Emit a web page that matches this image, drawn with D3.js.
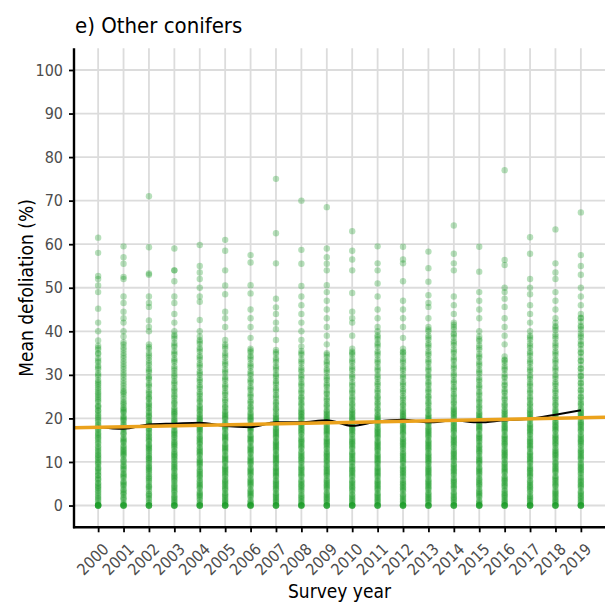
<!DOCTYPE html>
<html>
<head>
<meta charset="utf-8">
<script src="https://cdn.jsdelivr.net/npm/d3@7"></script>
<style>
  html, body { margin: 0; padding: 0; background: #ffffff; }
  svg { display: block; }
  text { font-family: "DejaVu Sans Condensed", "DejaVu Sans", sans-serif; }
</style>
</head>
<body>
<svg id="chart" width="605" height="605"></svg>
<script>
// ---------------- data ----------------
const titleText = "e) Other conifers";
const xTitle = "Survey year";
const yTitle = "Mean defoliation (%)";

const years = [2000,2001,2002,2003,2004,2005,2006,2007,2008,2009,2010,2011,2012,2013,2014,2015,2016,2017,2018,2019];
const yTicks = [0,10,20,30,40,50,60,70,80,90,100];

// yearly mean defoliation (black line)
const meanDefoliation = [18.1,17.6,18.6,18.8,19.0,18.25,18.0,19.1,19.1,19.6,18.3,19.3,19.7,19.1,19.5,19.1,19.6,19.9,20.85,21.85];

// linear trend (orange line): fitted values at first and last survey year
const trendYears = [2000, 2019];
const trendValues = [17.96, 20.14];

// plot-level mean defoliation, one array per survey year (first batch)
const d2000 = [0,0,0,0,0.4,1,1.7,2.1,2.9,3.3,4,4.6,5,5.8,6.3,7,7.5,8.3,8.8,9.4,10,10.4,11.1,11.7,12.5,12.9,13.6,14.2,15,15.4,16.1,16.7,17.5,17.9,18.6,19.2,20,20.4,21.2,21.7,22.5,23,23.8,24.5,25,25.8,26.7,27.1,28,28.8,29.6,30.4,31.3,32.1,32.9,33.8,35,35.8,36.7,37.9,40,42,45.2,49,50.5,52,52.7,58,61.5];
const d2001 = [0,0,0,0.6,1.3,1.9,2.5,3.1,3.8,4.4,5,5.6,6.3,6.9,7.5,8.1,8.8,9.4,10,10.6,11.3,11.9,12.5,13.1,13.8,14.4,15,15.6,16.3,16.9,17.5,18.1,18.8,19.4,20,20.6,21.3,21.9,22.5,23.1,23.8,25,25.6,26.3,27.5,28.1,29.4,30,31.3,31.9,33.1,34.4,35,36.3,37.5,38.8,40,42,43,44.5,46.5,48,52,52.5,55.5,57,59.5];
const d2002 = [0,0,0,0.8,1.4,2.2,2.7,3.3,4.2,4.7,5.3,6.1,6.7,7.2,8,8.6,9.2,9.7,10.5,11,11.7,12.2,12.9,13.5,14,14.7,15.3,16,16.4,17.2,17.8,18.3,19,19.6,20.3,20.8,21.6,22.2,22.9,23.6,24.4,25,25.6,26.4,27.3,28,29,29.7,30.6,31.4,32.2,33.3,34,35,36,37,40,41,42.5,45.6,46.5,48,53,53.3,59.3,71];
const d2003 = [0,0,0,0.5,1.1,1.8,2.4,3,3.6,4.3,5,5.5,6.2,6.8,7.4,8,8.6,9.3,10,10.5,11.2,11.8,12.4,13,13.7,14.3,15,15.5,16.2,16.8,17.4,18,18.7,19.3,20,20.5,21.2,21.8,22.6,23.3,24,24.7,25.5,26.2,27,27.8,28.6,29.4,30.3,31,32,32.9,33.7,34.6,35.5,36.4,37.3,38.3,39.2,40,42,44,46.5,48,51.5,54,54,59];
const d2004 = [0,0,0,0.7,1.3,2,2.6,3.2,3.9,4.5,5.1,5.8,6.4,7,7.7,8.3,8.9,9.6,10.2,10.8,11.5,12.1,12.7,13.4,14,14.6,15.3,15.9,16.5,17.2,17.8,18.4,19.1,19.7,20.3,21,21.6,22.3,23,23.8,24.5,25.2,26,26.8,27.6,28.4,29.2,30,30.8,31.7,32.6,33.5,34.4,35.3,36.2,37.1,38,38.8,40,42.6,46.8,48,50,52,53.5,55,59.8];
const d2005 = [0,0,0,0.4,1,1.6,2.3,2.9,3.5,4.1,4.8,5.4,6,6.6,7.3,7.9,8.5,9.1,9.8,10.4,11,11.6,12.3,12.9,13.5,14.1,14.8,15.4,16,16.6,17.3,17.9,18.5,19.1,19.8,20.4,21,21.7,22.4,23.1,23.8,24.6,25.4,26.2,27,27.8,28.7,29.5,30.4,31.3,32.2,33.1,34,35,36,37,38,41,43,44.5,48.5,50.5,54,58.5,61];
const d2006 = [0,0,0,0.6,1.2,1.9,2.5,3.1,3.7,4.4,5,5.6,6.2,6.9,7.5,8.1,8.7,9.4,10,10.6,11.2,11.9,12.5,13.1,13.7,14.4,15,15.6,16.2,16.9,17.5,18.1,18.7,19.4,20,20.6,21.3,22,22.7,23.4,24.1,24.9,25.7,26.5,27.3,28.2,29,29.9,30.8,31.7,32.6,33.5,34.4,35.2,36,38.5,41,43,45,48.7,50.6,55.8,57.5];
const d2007 = [0,0,0,0.5,1.1,1.7,2.3,2.9,3.5,4.1,4.7,5.3,5.9,6.5,7.1,7.7,8.3,8.9,9.5,10.1,10.7,11.3,11.9,12.5,13.1,13.7,14.3,14.9,15.5,16.1,16.7,17.3,17.9,18.5,19.1,19.7,20.3,21,21.7,22.4,23.1,23.8,24.6,25.4,26.2,27,27.8,28.6,29.4,30.2,31.1,32,32.9,33.8,34.8,35.7,38,40.5,42,44,45.5,47.5,55.6,62.5,75];
const d2008 = [0,0,0,0.7,1.4,2,2.7,3.3,4,4.6,5.3,5.9,6.6,7.2,7.9,8.5,9.2,9.8,10.5,11.1,11.8,12.4,13.1,13.7,14.4,15,15.7,16.3,17,17.6,18.3,18.9,19.6,20.2,20.9,21.5,22.2,22.9,23.6,24.3,25,25.8,26.6,27.4,28.2,29,29.9,30.8,31.7,32.6,33.6,34.6,35.5,36.5,38,40,42,44,46,48,50.4,55.5,58.7,70];
const d2009 = [0,0,0,0.5,1.2,1.8,2.4,3,3.7,4.3,4.9,5.5,6.2,6.8,7.4,8,8.7,9.3,9.9,10.5,11.2,11.8,12.4,13,13.7,14.3,14.9,15.5,16.2,16.8,17.4,18,18.7,19.3,19.9,20.5,21.2,21.9,22.6,23.3,24,24.8,25.6,26.4,27.2,28,28.8,29.6,30.5,31.4,32.3,33.2,34.1,35,37,39,41,43,45,47,49,50.6,54,55.5,57,59,68.5];
const d2010 = [0,0,0,0.6,1.3,1.9,2.6,3.2,3.9,4.5,5.2,5.8,6.5,7.1,7.8,8.4,9.1,9.7,10.4,11,11.7,12.3,13,13.6,14.3,14.9,15.6,16.2,16.9,17.5,18.2,18.8,19.5,20.1,20.8,21.4,22.1,22.8,23.5,24.2,25,25.8,26.6,27.4,28.3,29.2,30.1,31,31.9,32.8,33.7,34.6,35.3,36,39,42,43,44.5,48.8,54,56.5,58.5,63];
const d2011 = [0,0,0,0.5,1.1,1.7,2.3,2.9,3.5,4.1,4.7,5.3,5.9,6.5,7.1,7.7,8.3,8.9,9.5,10.1,10.7,11.3,11.9,12.5,13.1,13.7,14.3,14.9,15.5,16.1,16.7,17.3,17.9,18.5,19.1,19.7,20.3,20.9,21.6,22.3,23,23.7,24.4,25.1,25.9,26.7,27.5,28.3,29.1,30,30.9,31.8,32.7,33.6,34.5,35.4,36.4,37.3,38.2,39.1,40,41,43,45,48,51,54,55.6,59.5];
const d2012 = [0,0,0,0.7,1.3,2,2.6,3.3,3.9,4.6,5.2,5.9,6.5,7.2,7.8,8.5,9.1,9.8,10.4,11.1,11.7,12.4,13,13.7,14.3,15,15.6,16.3,16.9,17.6,18.2,18.9,19.5,20.2,20.8,21.5,22.2,22.9,23.6,24.3,25.1,25.9,26.7,27.5,28.3,29.2,30.1,31,31.9,32.8,33.7,34.6,35.3,36,38.5,41,43,45,47,51.5,55.6,56.5,59.4];
const d2013 = [0,0,0,0.6,1.2,1.8,2.4,3,3.6,4.2,4.8,5.4,6,6.6,7.2,7.8,8.4,9,9.6,10.2,10.8,11.4,12,12.6,13.2,13.8,14.4,15,15.6,16.2,16.8,17.4,18,18.6,19.2,19.8,20.4,21,21.7,22.4,23.1,23.8,24.5,25.2,26,26.8,27.6,28.4,29.2,30,30.9,31.8,32.7,33.6,34.5,35.4,36.3,37.2,38.1,39,40,41,43,45.6,46.5,48.3,51.4,54.5,58.3];
const d2014 = [0,0,0,0.5,1.2,1.8,2.5,3.1,3.8,4.4,5.1,5.7,6.4,7,7.7,8.3,9,9.6,10.3,10.9,11.6,12.2,12.9,13.5,14.2,14.8,15.5,16.1,16.8,17.4,18.1,18.7,19.4,20,20.7,21.3,22,22.7,23.4,24.1,24.8,25.6,26.4,27.2,28,28.8,29.6,30.5,31.4,32.3,33.2,34.1,35,35.9,36.8,37.7,38.6,39.5,40.5,41.5,42,44,46,48,54,55.6,57.8,64.3];
const d2015 = [0,0,0,0.6,1.2,1.9,2.5,3.1,3.8,4.4,5,5.7,6.3,6.9,7.6,8.2,8.8,9.5,10.1,10.7,11.4,12,12.6,13.3,13.9,14.5,15.2,15.8,16.4,17.1,17.7,18.3,19,19.6,20.2,20.9,21.6,22.3,23,23.7,24.5,25.3,26.1,26.9,27.7,28.5,29.4,30.3,31.2,32.1,33,33.9,34.8,35.8,36.8,37.8,38.8,40,43,45,47,49,53.7,59.4];
const d2016 = [0,0,0,0.4,1,1.7,2.3,2.9,3.6,4.2,4.8,5.5,6.1,6.7,7.4,8,8.6,9.3,9.9,10.5,11.2,11.8,12.4,13.1,13.7,14.3,15,15.6,16.2,16.9,17.5,18.1,18.8,19.4,20,20.7,21.4,22.1,22.8,23.5,24.3,25.1,25.9,26.7,27.5,28.4,29.3,30.2,31.1,32,32.8,33.5,34.2,37,39,41,43,45.6,47.5,49,50,55.2,56.4,77];
const d2017 = [0,0,0,0.6,1.3,1.9,2.6,3.2,3.9,4.5,5.2,5.8,6.5,7.1,7.8,8.4,9.1,9.7,10.4,11,11.7,12.3,13,13.6,14.3,14.9,15.6,16.2,16.9,17.5,18.2,18.8,19.5,20.1,20.8,21.4,22.1,22.8,23.5,24.2,25,25.8,26.6,27.4,28.2,29,29.9,30.8,31.7,32.6,33.5,34.4,35.3,36.2,37.2,38.1,39,40,42,44,46,48.5,50,52,57.8,61.6];
const d2018 = [0,0,0,0.5,1.1,1.8,2.4,3,3.7,4.3,4.9,5.6,6.2,6.8,7.5,8.1,8.7,9.4,10,10.6,11.3,11.9,12.5,13.2,13.8,14.4,15.1,15.7,16.3,17,17.6,18.2,18.9,19.5,20.1,20.8,21.5,22.2,22.9,23.6,24.3,25.1,25.9,26.7,27.5,28.3,29.1,30,30.9,31.8,32.7,33.6,34.5,35.4,36.3,37.3,38.3,39.3,40.3,41.2,42,43,45,47,49,52,53.5,55.6,63.4];
const d2019 = [0,0,0,0.7,1.4,2,2.7,3.3,4,4.6,5.3,5.9,6.6,7.2,7.9,8.5,9.2,9.8,10.5,11.1,11.8,12.4,13.1,13.7,14.4,15,15.7,16.3,17,17.6,18.3,18.9,19.6,20.2,20.9,21.5,22.2,22.9,23.6,24.3,25,25.8,26.6,27.4,28.2,29,29.8,30.6,31.4,32.3,33.2,34.1,35,35.9,36.8,37.7,38.6,39.5,40.4,41.3,42.2,43.1,44,46,48,50,53,55,57.5,67.3];

// second batch of plot values per survey year (dense core of each column)
const c2000 = [0,0,0.2,1.4,2.5,3.7,4.3,5.2,6.1,6.9,7.8,8.5,9.7,10.8,11.5,12.2,13.3,14.5,15.7,16.4,17.2,18.3,19.6,20.7,21.9,22.8,24.1,25.4,26.2,27.6,28.4,30,31.7,33.3,34.8,36.2];
const c2001 = [0,0,0.3,1.6,2.8,3.5,4.7,5.3,6.6,7.2,8.4,9.1,10.3,11.6,12.2,12.8,13.5,14.7,15.3,16.6,17.8,18.5,19.7,20.3,21.6,22.2,23.5,24.4,26,26.9,28.7,30.6,32.5,33.8,35.7,37];
const c2002 = [0,0,0.5,1.7,2.5,3.8,4.4,5.7,6.4,7.6,8.3,8.9,10.1,10.8,11.4,12.6,13.2,13.8,15,15.7,16.7,17.5,18.6,19.3,20.5,21.3,22.5,23.3,24.7,26,27.7,29.3,31,32.7,34.5,36.4];
const c2003 = [0,0,0.8,1.5,2.1,3.3,4,4.6,5.8,6.5,7.1,8.3,8.9,9.6,10.8,11.5,12.1,13.4,14,14.6,15.8,16.5,17.1,18.4,19,19.6,20.9,21.5,22.2,23.6,25.1,26.6,28.2,29.8,31.5,33.3,35,36.8,38.8];
const c2004 = [0,0,0.4,1.6,2.3,2.9,4.2,4.8,5.5,6.7,7.3,8,9.3,9.9,10.5,11.8,12.4,13.1,14.3,15,15.6,16.9,17.5,18.1,19.4,20,20.7,21.9,22.7,24.1,25.6,27.2,28.8,30.4,32.2,34,35.8,37.6];
const c2005 = [0,0,0.7,1.3,2,2.6,3.8,4.4,5.1,5.7,6.9,7.6,8.2,8.8,10.1,10.7,11.3,12.6,13.2,13.8,15.1,15.7,16.3,17.6,18.2,18.8,20.1,20.7,21.4,22.7,24.2,25.8,27.4,29.1,30.8,32.6,34.5,36.5];
const c2006 = [0,0,0.3,0.9,2.2,2.8,3.4,4.7,5.3,5.9,7.2,7.8,8.4,9.7,10.3,10.9,12.2,12.8,13.4,14.7,15.3,15.9,17.2,17.8,18.4,19.7,20.3,21,22.4,23.8,25.3,26.9,28.6,30.3,32.1,34,35.6];
const c2007 = [0,0,0.8,1.4,2,2.6,3.8,4.4,5,5.6,6.8,7.4,8,8.6,9.8,10.4,11,11.6,12.8,13.4,14,14.6,15.8,16.4,17,17.6,18.8,19.4,20,20.7,22.1,23.5,25,26.6,28.2,29.8,31.6,33.4,35.2];
const c2008 = [0,0,0.3,1,1.7,2.3,3.6,4.3,4.9,5.6,6.9,7.5,8.2,8.8,10.1,10.8,11.4,12.1,13.4,14,14.7,15.3,16.6,17.3,17.9,18.6,19.9,20.5,21.2,21.9,23.3,24.7,26.2,27.8,29.5,31.2,33.1,35];
const c2009 = [0,0,0.9,1.5,2.1,2.7,4,4.6,5.2,5.8,7.1,7.7,8.3,9,10.2,10.8,11.5,12.1,13.3,14,14.6,15.2,16.5,17.1,17.7,18.4,19.6,20.2,20.9,21.6,23,24.4,25.9,27.6,29.2,31,32.8,34.6];
const c2010 = [0,0,0.3,1,1.6,2.3,3.5,4.2,4.9,5.5,6.8,7.5,8.1,8.8,10,10.7,11.4,12,13.3,14,14.6,15.2,16.5,17.2,17.8,18.5,19.8,20.4,21.1,21.8,23.2,24.6,26.2,27.8,29.6,31.4,33.2,35];
const c2011 = [0,0,0.8,1.4,2,2.6,3.8,4.4,5,5.6,6.8,7.4,8,8.6,9.8,10.4,11,11.6,12.8,13.4,14,14.6,15.8,16.4,17,17.6,18.8,19.4,20,20.6,22,23.4,24.8,26.3,27.9,29.5,31.3,33.1,35,36.9,38.7];
const c2012 = [0,0,0.3,1,1.6,2.3,3.6,4.2,4.9,5.5,6.8,7.5,8.1,8.8,10.1,10.7,11.4,12,13.3,14,14.6,15.3,16.6,17.2,17.9,18.5,19.8,20.5,21.1,21.8,23.2,24.7,26.3,27.9,29.6,31.4,33.2,35.1];
const c2013 = [0,0,0.9,1.5,2.1,2.7,3.9,4.5,5.1,5.7,6.9,7.5,8.1,8.7,9.9,10.5,11.1,11.7,12.9,13.5,14.1,14.7,15.9,16.5,17.1,17.7,18.9,19.5,20.1,20.7,22,23.5,24.9,26.4,28,29.6,31.3,33.1,34.9,36.8,38.6,40.4];
const c2014 = [0,0,0.8,1.5,2.1,2.8,4.1,4.7,5.4,6,7.3,8,8.6,9.3,10.6,11.2,11.9,12.5,13.8,14.5,15.1,15.8,17.1,17.7,18.4,19,20.3,21,21.6,22.3,23.7,25.2,26.8,28.4,30,31.8,33.6,35.4,37.3,39.2,41];
const c2015 = [0,0,0.3,0.9,2.2,2.8,3.4,4.7,5.3,6,7.3,7.9,8.5,9.8,10.4,11,12.3,12.9,13.6,14.8,15.5,16.1,17.4,18,18.6,19.9,20.5,21.2,22.6,24.1,25.7,27.3,28.9,30.7,32.5,34.3,36.3,38.2];
const c2016 = [0,0,0.7,1.3,2,2.6,3.3,4.5,5.1,5.8,6.4,7.7,8.3,8.9,9.6,10.8,11.5,12.1,12.7,14,14.6,15.3,15.9,17.2,17.8,18.4,19.1,20.3,21,21.7,23.1,24.6,26.2,27.8,29.6,31.5,33.3];
const c2017 = [0,0,0.3,1,1.6,2.2,3.5,4.2,4.8,5.5,6.8,7.4,8.1,8.7,10,10.7,11.3,12,13.3,13.9,14.6,15.2,16.5,17.2,17.8,18.5,19.8,20.4,21.1,21.8,23.2,24.6,26.2,27.8,29.5,31.2,33,34.9,36.7,38.6];
const c2018 = [0,0,0.8,1.4,2.1,2.7,3.3,4.6,5.2,5.9,6.5,7.8,8.4,9,9.7,10.9,11.6,12.2,12.8,14.1,14.7,15.4,16,17.3,17.9,18.5,19.2,20.4,21.1,21.8,23.2,24.7,26.3,27.9,29.6,31.4,33.2,35,36.8,38.8,40.8];
const c2019 = [0,0,0.3,1,1.7,2.3,3,4.3,4.9,5.6,6.3,7.5,8.2,8.8,9.5,10.8,11.4,12.1,12.7,14,14.7,15.3,16,17.3,17.9,18.6,19.2,20.5,21.2,21.9,23.3,24.8,26.4,28,29.7,31.5,33.3,35.2,37.1,39,41,43];

const batchA = [d2000,d2001,d2002,d2003,d2004,d2005,d2006,d2007,d2008,d2009,d2010,d2011,d2012,d2013,d2014,d2015,d2016,d2017,d2018,d2019];
const batchB = [c2000,c2001,c2002,c2003,c2004,c2005,c2006,c2007,c2008,c2009,c2010,c2011,c2012,c2013,c2014,c2015,c2016,c2017,c2018,c2019];

// ---------------- chart ----------------
(function () {
const svg = d3.select("#chart");
const pLeft = 74, pRight = 605, pTop = 48.2, pBottom = 527.3;

const x = d3.scaleLinear().domain([1999.05, 2019.95]).range([pLeft, pRight]);
const y = d3.scaleLinear().domain([-5, 105]).range([pBottom, pTop]);

// title
svg.append("text")
  .attr("x", 75).attr("y", 33)
  .attr("font-size", 22).attr("fill", "#000")
  .text(titleText);

// grid
const grid = svg.append("g");
grid.selectAll("line.h").data(yTicks).join("line").attr("class", "h")
  .attr("x1", pLeft).attr("x2", pRight)
  .attr("y1", d => y(d)).attr("y2", d => y(d))
  .attr("stroke", "#dcdcdc").attr("stroke-width", 1.8);
grid.selectAll("line.v").data(years).join("line").attr("class", "v")
  .attr("x1", d => x(d)).attr("x2", d => x(d))
  .attr("y1", pTop).attr("y2", pBottom)
  .attr("stroke", "#dcdcdc").attr("stroke-width", 1.8);

// points
const pts = [];
years.forEach((yr, i) => {
  batchA[i].forEach(v => pts.push({yr, v}));
  batchB[i].forEach(v => pts.push({yr, v}));
});
svg.append("g").selectAll("circle").data(pts).join("circle")
  .attr("cx", d => x(d.yr)).attr("cy", d => y(d.v))
  .attr("r", 3.2)
  .attr("fill", "#169a22").attr("fill-opacity", 0.31);

// mean line
const meanLine = d3.line()
  .x((d, i) => x(years[i])).y(d => y(d))
  .curve(d3.curveMonotoneX);
svg.append("path").datum(meanDefoliation)
  .attr("d", meanLine)
  .attr("fill", "none").attr("stroke", "#000").attr("stroke-width", 2);

// trend line
const trend = d3.scaleLinear().domain(trendYears).range(trendValues);
svg.append("path").datum(x.domain())
  .attr("d", d3.line().x(d => x(d)).y(d => y(trend(d))))
  .attr("fill", "none").attr("stroke", "#EBA21C").attr("stroke-width", 3.5);

// axes
const yAxis = svg.append("g").attr("transform", `translate(${pLeft},0)`)
  .call(d3.axisLeft(y).tickValues(yTicks).tickSize(5).tickSizeOuter(0).tickPadding(6));
yAxis.select(".domain").remove();
yAxis.selectAll(".tick line").attr("stroke", "#000").attr("stroke-width", 1.8);
yAxis.selectAll(".tick text").attr("font-size", 16).attr("fill", "#4d4d4d")
  .attr("font-family", '"DejaVu Sans Condensed", "DejaVu Sans", sans-serif');

const xAxis = svg.append("g").attr("transform", `translate(0,${pBottom})`)
  .call(d3.axisBottom(x).tickValues(years).tickFormat(d3.format("d")).tickSize(5).tickSizeOuter(0));
xAxis.select(".domain").remove();
xAxis.selectAll(".tick line").attr("stroke", "#000").attr("stroke-width", 1.8);
xAxis.selectAll(".tick text")
  .attr("font-size", 16).attr("fill", "#4d4d4d")
  .attr("font-family", '"DejaVu Sans Condensed", "DejaVu Sans", sans-serif')
  .attr("x", 0).attr("y", 0).attr("dy", "0.71em")
  .attr("text-anchor", "end")
  .attr("transform", "translate(3,15) rotate(-45)");

// axis lines
svg.append("line").attr("x1", pLeft).attr("x2", pLeft).attr("y1", pTop).attr("y2", pBottom + 1)
  .attr("stroke", "#000").attr("stroke-width", 2.4);
svg.append("line").attr("x1", pLeft - 1).attr("x2", pRight).attr("y1", pBottom).attr("y2", pBottom)
  .attr("stroke", "#000").attr("stroke-width", 2.4);

// axis titles
svg.append("text")
  .attr("transform", "translate(33,288) rotate(-90)")
  .attr("text-anchor", "middle").attr("font-size", 19).attr("fill", "#000")
  .text(yTitle);
svg.append("text")
  .attr("x", (pLeft + pRight) / 2).attr("y", 598)
  .attr("text-anchor", "middle").attr("font-size", 19).attr("fill", "#000")
  .text(xTitle);
})();
</script>
</body>
</html>
